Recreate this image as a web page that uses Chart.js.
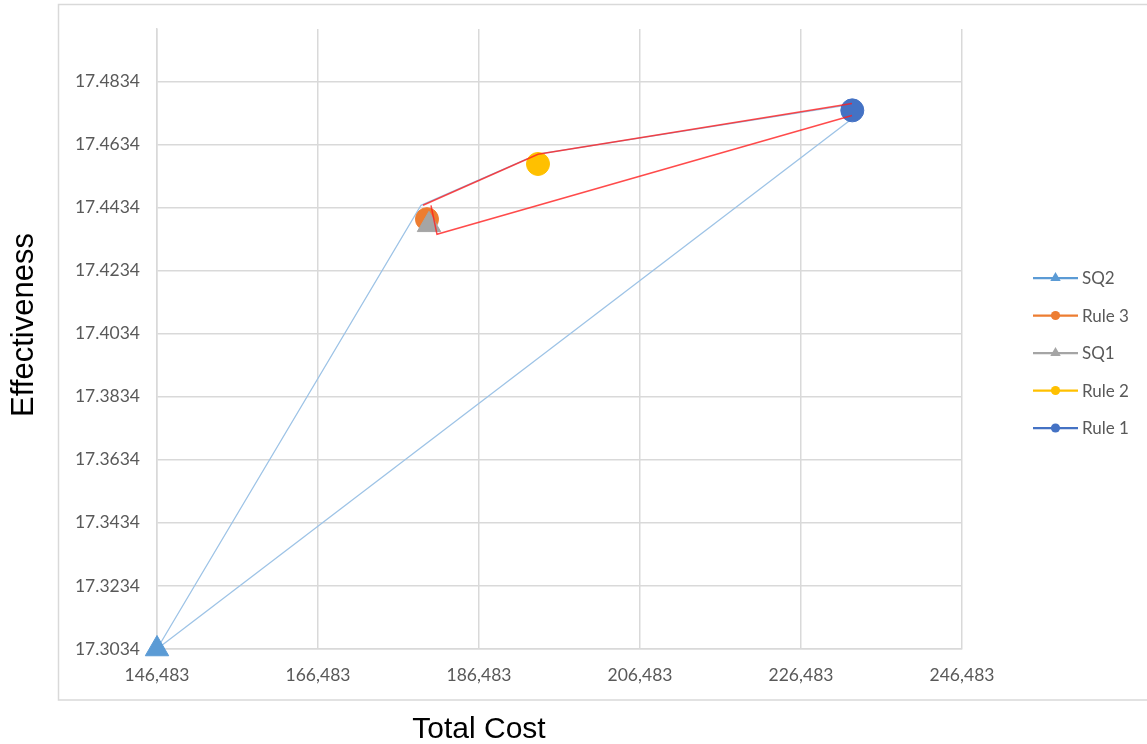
<!DOCTYPE html>
<html>
<head>
<meta charset="utf-8">
<title>Total Cost vs Effectiveness</title>
<script src="https://cdn.jsdelivr.net/npm/chart.js@4.4.0/dist/chart.umd.min.js"></script>
<style>
  html, body { margin: 0; padding: 0; background: #ffffff; }
  #wrap { width: 1147px; height: 744px; position: relative; }
</style>
</head>
<body>
<div id="wrap"><canvas id="chart" width="1147" height="744"></canvas></div>
<script>
// ---- strategies (one marker each) ----
const seriesNames   = ['SQ2', 'Rule 3', 'SQ1', 'Rule 2', 'Rule 1'];
const totalCost     = [146483, 180023, 180272, 193812, 232856];
const effectiveness = [17.3034, 17.4397, 17.4379, 17.4572, 17.4742];

// ---- axis ticks ----
const xTickValues = [146483, 166483, 186483, 206483, 226483, 246483];
const yTickValues = [17.3034, 17.3234, 17.3434, 17.3634, 17.3834, 17.4034, 17.4234, 17.4434, 17.4634, 17.4834];
const xAxisMin = 146483, xAxisMax = 246483;
const yAxisMin = 17.3034, yAxisMax = 17.5;

// ---- connecting paths (blue: from SQ2, red: outline round the rules) ----
const frontierCost     = [146483, 179277, 193811, 232816];
const frontierEff      = [17.3034, 17.4441, 17.4603, 17.4761];
const diagonalCost     = [146483, 232696];
const diagonalEff      = [17.3034, 17.4713];
const outlineUpperCost = [179526, 193811, 232816];
const outlineUpperEff  = [17.4441, 17.4603, 17.4764];
const outlineLowerCost = [232816, 181265, 180519];
const outlineLowerEff  = [17.4726, 17.4349, 17.4441];

// ---- styles ----
const seriesColors = ['#5B9BD5', '#ED7D31', '#A5A5A5', '#FFC000', '#4472C4'];
const seriesShapes = ['triangle', 'circle', 'triangle', 'circle', 'circle'];
const blueLine = '#9DC3E6';
const redLine = 'rgba(255, 30, 30, 0.8)';
const gridColor = '#D9D9D9';
const labelColor = '#595959';

const toPoints = (xs, ys) => xs.map((x, i) => ({ x: x, y: ys[i] }));

function pathDataset(xs, ys, color, width, order) {
  return {
    data: toPoints(xs, ys),
    showLine: true,
    borderColor: color,
    borderWidth: width,
    pointRadius: 0,
    tension: 0,
    fill: false,
    clip: false,
    order: order
  };
}

const markerDatasets = seriesNames.map((name, i) => ({
  label: name,
  data: [{ x: totalCost[i], y: effectiveness[i] }],
  showLine: false,
  clip: false,
  pointStyle: seriesShapes[i],
  pointRadius: seriesShapes[i] === 'triangle' ? 13.5 : 11.5,
  pointBackgroundColor: seriesColors[i],
  pointBorderColor: seriesColors[i],
  pointBorderWidth: 1,
  order: seriesNames.length - i,
  seriesIndex: i
}));

const datasets = [
  pathDataset(outlineUpperCost, outlineUpperEff, redLine, 1.5, 0),
  pathDataset(outlineLowerCost, outlineLowerEff, redLine, 1.5, 0),
  ...markerDatasets,
  pathDataset(frontierCost, frontierEff, blueLine, 1.3, 10),
  pathDataset(diagonalCost, diagonalEff, blueLine, 1.3, 10)
];

// outer frame of the chart panel
const framePlugin = {
  id: 'frame',
  beforeDraw(chart) {
    const ctx = chart.ctx;
    ctx.save();
    ctx.strokeStyle = gridColor;
    ctx.lineWidth = 1.5;
    ctx.strokeRect(58.5, 4.5, chart.width + 10, 695.5);
    ctx.restore();
  }
};

// axis titles and legend (line + marker per strategy)
const annotationsPlugin = {
  id: 'annotations',
  afterDraw(chart) {
    const ctx = chart.ctx;
    const area = chart.chartArea;
    ctx.save();
    ctx.fillStyle = '#000000';
    ctx.font = '30px "Liberation Sans", Arial, sans-serif';
    ctx.textAlign = 'center';
    ctx.textBaseline = 'alphabetic';
    ctx.fillText('Total Cost', 479, 738);

    ctx.save();
    ctx.translate(33, 325);
    ctx.rotate(-Math.PI / 2);
    ctx.font = '31px "Liberation Sans", Arial, sans-serif';
    ctx.fillText('Effectiveness', 0, 0);
    ctx.restore();

    // legend
    const x0 = area.right + 71;
    const lineLen = 45;
    const firstY = area.top + 249;
    const step = 37.5;
    ctx.font = '17px Lato, "Open Sans", sans-serif';
    ctx.textAlign = 'left';
    ctx.textBaseline = 'middle';
    markerDatasets.forEach((ds, i) => {
      const y = firstY + i * step;
      const color = seriesColors[ds.seriesIndex];
      ctx.strokeStyle = color;
      ctx.lineWidth = 2.25;
      ctx.beginPath();
      ctx.moveTo(x0, y);
      ctx.lineTo(x0 + lineLen, y);
      ctx.stroke();
      ctx.fillStyle = color;
      Chart.helpers.drawPoint(ctx, {
        pointStyle: seriesShapes[ds.seriesIndex],
        radius: seriesShapes[ds.seriesIndex] === 'triangle' ? 6 : 4.6,
        rotation: 0,
        borderWidth: 0
      }, x0 + lineLen / 2, y);
      ctx.fillStyle = labelColor;
      ctx.fillText(ds.label, x0 + lineLen + 4, y + 1);
    });
    ctx.restore();
  }
};

new Chart(document.getElementById('chart'), {
  type: 'scatter',
  data: { datasets: datasets },
  options: {
    responsive: false,
    animation: false,
    events: [],
    layout: { padding: { top: 29, right: 185, bottom: 0, left: 0 } },
    plugins: {
      legend: { display: false },
      tooltip: { enabled: false }
    },
    scales: {
      x: {
        type: 'linear',
        min: xAxisMin,
        max: xAxisMax,
        afterBuildTicks(scale) { scale.ticks = xTickValues.map(v => ({ value: v })); },
        afterFit(scale) { scale.height = 95; },
        grid: { color: gridColor, lineWidth: 1.5, drawTicks: false },
        border: { color: gridColor, width: 1.5 },
        ticks: {
          color: labelColor,
          font: { family: 'Lato', size: 17.5 },
          padding: 16,
          maxRotation: 0,
          autoSkip: false,
          callback: v => Number(v).toLocaleString('en-US')
        }
      },
      y: {
        type: 'linear',
        min: yAxisMin,
        max: yAxisMax,
        afterBuildTicks(scale) { scale.ticks = yTickValues.map(v => ({ value: v })); },
        afterFit(scale) { scale.width = 157; },
        grid: { color: gridColor, lineWidth: 1.5, drawTicks: false },
        border: { color: gridColor, width: 1.5 },
        ticks: {
          color: labelColor,
          font: { family: 'Lato', size: 17.5 },
          padding: 17,
          autoSkip: false,
          callback: v => Number(v).toFixed(4)
        }
      }
    }
  },
  plugins: [framePlugin, annotationsPlugin]
});
</script>
</body>
</html>
